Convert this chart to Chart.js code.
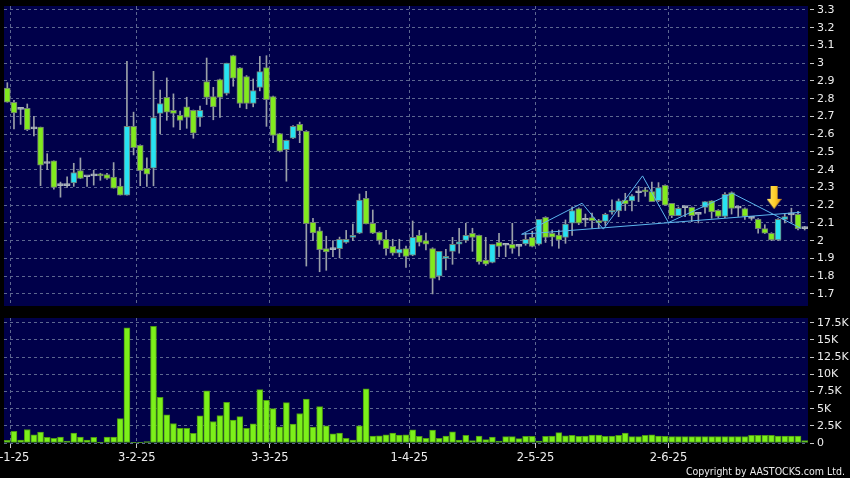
<!DOCTYPE html>
<html>
<head>
<meta charset="utf-8">
<title>AASTOCKS daily chart</title>
<script src="https://cdn.jsdelivr.net/npm/chart.js@4.4.1/dist/chart.umd.min.js"></script>
<style>
  html, body { margin: 0; padding: 0; background: #000; }
  #wrap { position: relative; width: 850px; height: 478px; overflow: hidden; background: #000; }
  #price { position: absolute; left: 0; top: 0; }
  #vol { position: absolute; left: 0; top: 306px; }
  #copy {
    position: absolute; right: 5px; top: 465px;
    font: 10.5px "DejaVu Sans Condensed", "DejaVu Sans", sans-serif;
    color: #ececec; white-space: nowrap;
  }
</style>
</head>
<body>
<div id="wrap">
  <canvas id="price" width="850" height="306"></canvas>
  <canvas id="vol" width="850" height="172"></canvas>
  <div id="copy">Copyright by AASTOCKS.com Ltd.</div>
</div>
<script>
/* ---------- data (one entry per trading session, 31-12-24 .. 30-6-25) ---------- */
const OPEN = [2.86, 2.78, 2.74, 2.745, 2.63, 2.64, 2.435, 2.45, 2.31, 2.31,
  2.326, 2.395, 2.36, 2.365, 2.375, 2.373, 2.358, 2.307, 2.257, 2.644,
  2.537, 2.408, 2.408, 2.717, 2.807, 2.734, 2.706, 2.754, 2.734, 2.694,
  2.896, 2.812, 2.907, 2.83, 3.042, 2.973, 2.924, 2.773, 2.863, 2.975,
  2.812, 2.603, 2.513, 2.577, 2.655, 2.616, 2.104, 2.055, 1.956, 1.95,
  1.955, 1.99, 2.019, 2.042, 2.239, 2.098, 2.047, 2.008, 1.968, 1.929,
  1.955, 1.918, 2.03, 2.0, 1.955, 1.80, 1.9, 1.94, 1.98, 2.002,
  2.042, 2.03, 1.89, 1.878, 1.99, 1.974, 1.98, 1.968, 1.982, 2.019,
  1.98, 2.132, 2.042, 2.031, 2.019, 2.098, 2.181, 2.115, 2.13, 2.113,
  2.108, 2.16, 2.168, 2.229, 2.224, 2.27, 2.28, 2.276, 2.226, 2.312,
  2.21, 2.141, 2.186, 2.188, 2.148, 2.188, 2.224, 2.171, 2.136, 2.271,
  2.183, 2.181, 2.126, 2.12, 2.068, 2.042, 2.004, 2.12, 2.145, 2.149,
  2.068];

const HIGH = [2.89, 2.79, 2.75, 2.77, 2.70, 2.64, 2.49, 2.45, 2.33, 2.36,
  2.436, 2.466, 2.36, 2.397, 2.38, 2.38, 2.44, 2.35, 3.01, 2.724,
  2.54, 2.466, 2.954, 2.848, 2.917, 2.827, 2.73, 2.808, 2.736, 2.758,
  3.029, 2.864, 2.91, 3.0, 3.045, 2.975, 2.93, 2.911, 3.038, 3.042,
  2.815, 2.605, 2.567, 2.648, 2.668, 2.62, 2.126, 2.076, 2.025, 2.0,
  2.02, 2.058, 2.094, 2.263, 2.278, 2.173, 2.05, 2.058, 2.008, 2.008,
  1.97, 2.111, 2.058, 2.043, 1.96, 1.94, 1.951, 2.019, 2.07, 2.098,
  2.07, 2.032, 2.019, 1.98, 2.042, 1.98, 2.098, 1.98, 2.042, 2.053,
  2.12, 2.135, 2.06, 2.06, 2.117, 2.19, 2.185, 2.15, 2.155, 2.12,
  2.155, 2.23, 2.235, 2.267, 2.26, 2.305, 2.30, 2.33, 2.327, 2.315,
  2.21, 2.19, 2.19, 2.19, 2.15, 2.22, 2.225, 2.175, 2.271, 2.275,
  2.19, 2.185, 2.135, 2.125, 2.09, 2.045, 2.125, 2.15, 2.183, 2.165,
  2.08];

const LOW = [2.78, 2.63, 2.655, 2.62, 2.59, 2.31, 2.40, 2.29, 2.245, 2.30,
  2.306, 2.349, 2.306, 2.313, 2.34, 2.345, 2.296, 2.257, 2.257, 2.483,
  2.31, 2.306, 2.309, 2.603, 2.678, 2.64, 2.625, 2.633, 2.577, 2.644,
  2.767, 2.681, 2.694, 2.82, 2.87, 2.75, 2.743, 2.754, 2.844, 2.644,
  2.552, 2.50, 2.335, 2.575, 2.552, 1.857, 2.0, 1.825, 1.833, 1.91,
  1.903, 1.985, 2.0, 2.04, 2.094, 2.04, 1.98, 1.918, 1.918, 1.91,
  1.85, 1.915, 1.97, 1.948, 1.70, 1.779, 1.835, 1.867, 1.929, 1.99,
  1.94, 1.867, 1.86, 1.875, 1.91, 1.91, 1.929, 1.914, 1.974, 1.965,
  1.975, 1.99, 1.97, 1.957, 1.985, 2.03, 2.09, 2.08, 2.07, 2.07,
  2.085, 2.15, 2.135, 2.17, 2.168, 2.22, 2.25, 2.22, 2.22, 2.2,
  2.13, 2.14, 2.135, 2.107, 2.1, 2.155, 2.126, 2.13, 2.13, 2.15,
  2.136, 2.12, 2.115, 2.042, 2.04, 2.0, 2.0, 2.1, 2.107, 2.06,
  2.06];

const CLOSE = [2.78, 2.72, 2.74, 2.625, 2.63, 2.425, 2.435, 2.30, 2.31, 2.31,
  2.384, 2.35, 2.36, 2.365, 2.365, 2.35, 2.296, 2.257, 2.644, 2.524,
  2.395, 2.375, 2.694, 2.773, 2.724, 2.717, 2.678, 2.694, 2.605, 2.734,
  2.807, 2.754, 2.807, 3.0, 2.915, 2.773, 2.773, 2.846, 2.952, 2.795,
  2.593, 2.504, 2.565, 2.644, 2.618, 2.096, 2.044, 1.949, 1.936, 1.95,
  2.008, 2.008, 2.03, 2.228, 2.094, 2.042, 2.002, 1.955, 1.929, 1.952,
  1.912, 2.019, 1.99, 1.98, 1.788, 1.94, 1.911, 1.98, 1.993, 2.03,
  2.019, 1.88, 1.867, 1.98, 1.968, 1.974, 1.957, 1.968, 2.008, 1.968,
  2.12, 2.019, 2.02, 2.004, 2.094, 2.17, 2.098, 2.115, 2.113, 2.1,
  2.149, 2.17, 2.224, 2.207, 2.252, 2.27, 2.275, 2.22, 2.299, 2.2,
  2.141, 2.182, 2.186, 2.141, 2.148, 2.22, 2.162, 2.136, 2.261, 2.181,
  2.183, 2.136, 2.126, 2.068, 2.042, 2.004, 2.12, 2.136, 2.145, 2.068,
  2.068];

const VOLUME = [390, 1690, 430, 1970, 1200, 1590, 820, 670, 870, 290,
  1450, 870, 430, 820, 100, 870, 870, 3560, 16760, 50,
  20, 190, 17000, 6650, 4090, 2840, 2120, 2120, 1400, 3950,
  7610, 3130, 4000, 5920, 3320, 3850, 2120, 2790, 7760, 6210,
  5010, 2360, 5880, 2750, 4290, 6410, 2310, 5300, 2500, 1350,
  1450, 670, 430, 2500, 7900, 1010, 1060, 1200, 1450, 1160,
  1200, 1930, 960, 670, 1880, 670, 1010, 1640, 430, 1110,
  340, 1010, 480, 870, 290, 920, 920, 630, 960, 960,
  290, 960, 1010, 1500, 1060, 1110, 960, 1010, 1160, 1160,
  960, 1010, 1110, 1450, 920, 920, 1110, 1200, 1010, 960,
  920, 920, 920, 920, 920, 920, 920, 920, 920, 920,
  920, 920, 1110, 1110, 1110, 1110, 1010, 1010, 1010, 1010,
  340];

// first session of each labelled month, and its label
const X_TICKS = [1, 20, 40, 61, 80, 100];
const X_LABELS = ["2-1-25", "3-2-25", "3-3-25", "1-4-25", "2-5-25", "2-6-25"];

const PRICE_TICKS = [1.7, 1.8, 1.9, 2.0, 2.1, 2.2, 2.3, 2.4, 2.5, 2.6, 2.7, 2.8, 2.9, 3.0, 3.1, 3.2, 3.3];
const VOL_TICKS = [0, 2500, 5000, 7500, 10000, 12500, 15000, 17500];

// pattern lines drawn on the price panel (session index, price)
const ZIGZAG_X = [77.4, 86.5, 89.7, 95.6, 99.5, 109.1, 119.4];
const ZIGZAG_Y = [2.036, 2.211, 2.065, 2.365, 2.102, 2.267, 2.07];
const TREND_X = [77.4, 119.4];
const TREND_Y = [2.036, 2.16];

// signal arrow
const ARROW_X = [115.4];
const ARROW_Y = [2.244];

const N = CLOSE.length;

const COLORS = {
  panel: "#00004a",
  grid: "#5d6790",
  up: "#27e2f2",
  down: "#82ea1e",
  doji: "#aab4bc",
  wick: "#9aa0a8",
  edge: "#6f7c74",
  vol: "#7cf01a",
  volEdge: "#4c9a12",
  pattern: "#5cb6ee",
  text: "#eeeeee",
  tick: "#c8c8c8",
};

const FONT_Y = { family: "'DejaVu Sans', sans-serif", size: 11 };
const FONT_X = { family: "'DejaVu Sans', sans-serif", size: 11.5 };

/* ---------- plugins ---------- */
const panelBg = {
  id: "panelBg",
  beforeDraw(chart) {
    const { ctx, chartArea: a } = chart;
    ctx.save();
    ctx.fillStyle = COLORS.panel;
    ctx.fillRect(a.left, a.top, a.right - a.left, a.bottom - a.top);
    ctx.restore();
  },
};

function noPad(s) {
  s.paddingLeft = 0;
  s.paddingRight = 0;
  s.paddingTop = 0;
  s.paddingBottom = 0;
}

function fmtVol(v) {
  return v === 0 ? "0" : v / 1000 + "K";
}

function makeArrow() {
  const c = document.createElement("canvas");
  c.width = 15;
  c.height = 23;
  const g = c.getContext("2d");
  const grad = g.createLinearGradient(0, 0, 15, 0);
  grad.addColorStop(0, "#ffe46a");
  grad.addColorStop(0.55, "#ffd02a");
  grad.addColorStop(1, "#e39412");
  g.fillStyle = grad;
  g.beginPath();
  g.moveTo(4, 0);
  g.lineTo(11, 0);
  g.lineTo(11, 13);
  g.lineTo(15, 13);
  g.lineTo(7.5, 23);
  g.lineTo(0, 13);
  g.lineTo(4, 13);
  g.closePath();
  g.fill();
  return c;
}

function xAxis(showLabels) {
  return {
    type: "linear",
    min: -0.5,
    max: N - 0.5,
    offset: false,
    bounds: "data",
    afterBuildTicks: (s) => {
      s.ticks = X_TICKS.map((i) => ({ value: i - 0.5 }));
    },
    afterFit: (s) => {
      noPad(s);
      s.height = showLabels ? 35 : 0;
    },
    ticks: {
      display: showLabels,
      autoSkip: false,
      maxRotation: 0,
      padding: 3,
      color: COLORS.text,
      font: FONT_X,
      callback: (v, idx) => X_LABELS[idx],
    },
    grid: {
      color: COLORS.grid,
      offset: false,
      drawTicks: showLabels,
      tickLength: 5,
      tickColor: COLORS.tick,
      tickBorderDash: [],
    },
    border: { display: false, dash: [3, 3] },
  };
}

function yAxis(min, max, values, fmt) {
  return {
    position: "right",
    min,
    max,
    bounds: "data",
    afterBuildTicks: (s) => {
      s.ticks = values.map((v) => ({ value: v }));
    },
    afterFit: (s) => {
      noPad(s);
      s.width = 42;
    },
    ticks: { color: COLORS.text, font: FONT_Y, padding: 3, callback: fmt },
    grid: {
      color: COLORS.grid,
      tickLength: 6,
      tickColor: COLORS.tick,
      tickBorderDash: [0, 2, 4, 50],
    },
    border: { display: false, dash: [3, 3] },
  };
}

const baseOptions = {
  responsive: false,
  animation: false,
  events: [],
  plugins: { legend: { display: false }, tooltip: { enabled: false } },
};

/* ---------- price panel ---------- */
function renderPrice() {
  const idx = CLOSE.map((_, i) => i);
  const bodyColor = idx.map((i) =>
    CLOSE[i] > OPEN[i] ? COLORS.up : CLOSE[i] < OPEN[i] ? COLORS.down : COLORS.doji
  );
  const edgeColor = idx.map((i) => (CLOSE[i] === OPEN[i] ? COLORS.doji : COLORS.edge));

  new Chart(document.getElementById("price"), {
    type: "bar",
    data: {
      datasets: [
        {
          type: "line",
          data: ZIGZAG_X.map((x, i) => ({ x, y: ZIGZAG_Y[i] })),
          borderColor: COLORS.pattern,
          borderWidth: 1,
          pointRadius: 0,
          tension: 0,
          order: 0,
        },
        {
          type: "line",
          data: TREND_X.map((x, i) => ({ x, y: TREND_Y[i] })),
          borderColor: COLORS.pattern,
          borderWidth: 1,
          pointRadius: 0,
          order: 0,
        },
        {
          type: "line",
          data: ARROW_X.map((x, i) => ({ x, y: ARROW_Y[i] })),
          showLine: false,
          pointStyle: makeArrow(),
          pointRadius: 8,
          order: -1,
        },
        {
          data: idx.map((i) => ({ x: i, y: [Math.min(OPEN[i], CLOSE[i]), Math.max(OPEN[i], CLOSE[i])] })),
          backgroundColor: bodyColor,
          borderColor: edgeColor,
          borderWidth: 1,
          borderSkipped: false,
          barThickness: 6,
          minBarLength: 2,
          grouped: false,
          order: 1,
        },
        {
          data: idx.map((i) => ({ x: i, y: [LOW[i], HIGH[i]] })),
          backgroundColor: COLORS.wick,
          barThickness: 1,
          grouped: false,
          order: 2,
        },
      ],
    },
    options: {
      ...baseOptions,
      layout: { autoPadding: false, padding: { left: 4, top: 6, right: 0, bottom: 0 } },
      scales: {
        x: xAxis(false),
        y: yAxis(1.632, 3.322, PRICE_TICKS, (v) => String(Number(v.toFixed(1)))),
      },
    },
    plugins: [panelBg],
  });
}

/* ---------- volume panel ---------- */
function renderVolume() {
  new Chart(document.getElementById("vol"), {
    type: "bar",
    data: {
      datasets: [
        {
          data: VOLUME.map((v, i) => ({ x: i, y: v })),
          backgroundColor: COLORS.vol,
          borderColor: COLORS.volEdge,
          borderWidth: 1,
          borderSkipped: false,
          barThickness: 6,
          grouped: false,
        },
      ],
    },
    options: {
      ...baseOptions,
      layout: { autoPadding: false, padding: { left: 4, top: 12, right: 0, bottom: 0 } },
      scales: {
        x: xAxis(true),
        y: yAxis(0, 18200, VOL_TICKS, fmtVol),
      },
    },
    plugins: [panelBg],
  });
}

renderPrice();
renderVolume();
</script>
</body>
</html>
